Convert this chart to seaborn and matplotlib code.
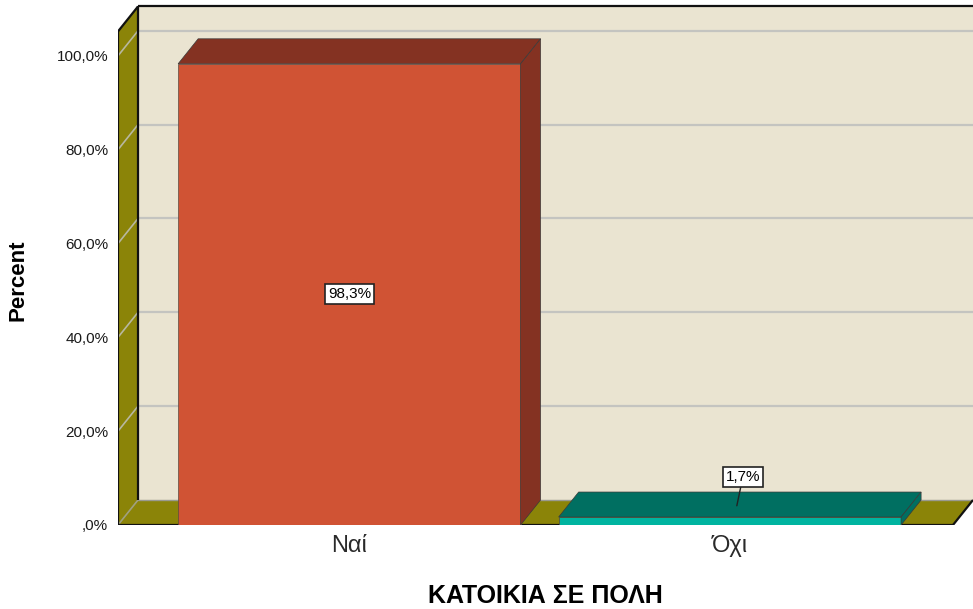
import matplotlib
matplotlib.use("Agg")
import matplotlib.pyplot as plt
import seaborn as sns
from matplotlib.patches import Polygon

# data
categories = ["Ναί", "Όχι"]
percents = [98.3, 1.7]
value_labels = ["98,3%", "1,7%"]
front_colors = ["#D05334", "#00B4A0"]
shade_colors = ["#843222", "#006F61"]
ytick_values = [0, 20, 40, 60, 80, 100]
ytick_labels = [",0%", "20,0%", "40,0%", "60,0%", "80,0%", "100,0%"]

sns.set_style("white")
plt.rcParams["font.family"] = ["Liberation Sans", "DejaVu Sans"]
plt.rcParams["text.color"] = "black"
plt.rcParams["axes.labelcolor"] = "black"

fig = plt.figure(figsize=(9.73, 6.09), dpi=100)
ax = fig.add_axes([118 / 973, 84 / 609, 855 / 973, 525 / 609])

x_left, x_right = -0.608, 1.639
y_top = 111.9
dx, dy = 0.0526, 5.33  # depth offset of the 3d box
wall_top = 105.2
floor_right = x_right - dx

wall = "#EAE4D1"
olive = "#8B8408"

# back wall
ax.add_patch(Polygon([(x_left + dx, dy), (x_right, dy), (x_right, wall_top + dy),
                      (x_left + dx, wall_top + dy)], closed=True, fc=wall, ec="none", zorder=0))
# left wall
ax.add_patch(Polygon([(x_left, 0), (x_left + dx, dy), (x_left + dx, wall_top + dy),
                      (x_left, wall_top)], closed=True, fc=olive, ec="none", zorder=0))
# floor
ax.add_patch(Polygon([(x_left, 0), (floor_right, 0), (x_right, dy), (x_left + dx, dy)],
                     closed=True, fc=olive, ec="none", zorder=0))

# grid lines on back and left walls
for v in ytick_values[1:]:
    ax.plot([x_left + dx, x_right], [v + dy, v + dy], color="#C4C4C0", lw=1.6, zorder=1)
    ax.plot([x_left, x_left + dx], [v, v + dy], color="#B8B8A0", lw=1.2, zorder=1)
ax.plot([x_left, x_left + dx], [0, dy], color="#A0A080", lw=1.2, zorder=1)
ax.plot([x_left + dx, x_right], [dy, dy], color="#9A9A90", lw=1.0, zorder=1)

# black frame edges
edge = dict(color="#111111", lw=1.6, zorder=2, solid_capstyle="butt")
ax.plot([x_left + dx, x_left + dx], [dy, wall_top + dy], **edge)
ax.plot([x_left + dx, x_right], [wall_top + dy, wall_top + dy], **edge)
ax.plot([x_left, x_left], [0, wall_top], **edge)
ax.plot([x_left, x_left + dx], [wall_top, wall_top + dy], **edge)
ax.plot([x_left, floor_right], [0, 0], **edge)
ax.plot([floor_right, x_right], [0, dy], **edge)

# front faces of the bars
sns.barplot(x=categories, y=percents, hue=categories, palette=front_colors,
            width=0.9, saturation=1, legend=False, ax=ax, zorder=3,
            edgecolor="#5A4A40", linewidth=0.5)

bars = [c[0] for c in ax.containers]

# top and side faces
for bar, shade in zip(bars, shade_colors):
    x0 = bar.get_x()
    w = bar.get_width()
    h = bar.get_height()
    top = Polygon([(x0, h), (x0 + dx, h + dy), (x0 + w + dx, h + dy), (x0 + w, h)],
                  closed=True, fc=shade, ec="#3A3A3A", lw=0.5, zorder=3)
    side = Polygon([(x0 + w, 0), (x0 + w + dx, dy), (x0 + w + dx, h + dy), (x0 + w, h)],
                   closed=True, fc=shade, ec="#3A3A3A", lw=0.5, zorder=3)
    ax.add_patch(top)
    ax.add_patch(side)

box = dict(boxstyle="square,pad=0.2", fc="white", ec="#222222", lw=1.2)
# label inside the tall bar
b0 = bars[0]
ax.text(b0.get_x() + b0.get_width() / 2, percents[0] / 2, value_labels[0],
        ha="center", va="center", fontsize=11, bbox=box, zorder=5)
# label with leader line for the small bar
b1 = bars[1]
cx = b1.get_x() + b1.get_width() / 2 + dx * 0.5
ax.annotate(value_labels[1], xy=(cx - 0.008, percents[1] + dy * 0.45),
            xytext=(cx + 0.008, percents[1] + 8.6), ha="center", va="center",
            fontsize=11, bbox=box, zorder=5,
            arrowprops=dict(arrowstyle="-", color="#222222", lw=1, shrinkA=0, shrinkB=0))

ax.set_xlim(x_left, x_right)
ax.set_ylim(0, y_top)
ax.set_yticks(ytick_values)
ax.set_yticklabels(ytick_labels, fontsize=11, color="#1A1A1A")
ax.tick_params(axis="y", length=0, pad=7)
ax.tick_params(axis="x", length=0, pad=7, labelsize=17, labelcolor="#2A2A2A")
for s in ax.spines.values():
    s.set_visible(False)
ax.set_facecolor("none")

ax.set_ylabel("Percent", fontsize=16, fontweight="bold")
ax.yaxis.set_label_coords(-0.105, 0.467)
ax.set_xlabel("ΚΑΤΟΙΚΙΑ ΣΕ ΠΟΛΗ", fontsize=18, fontweight="bold")
ax.xaxis.set_label_coords(0.4994, -0.112)

fig.savefig("out.png", dpi=100)
